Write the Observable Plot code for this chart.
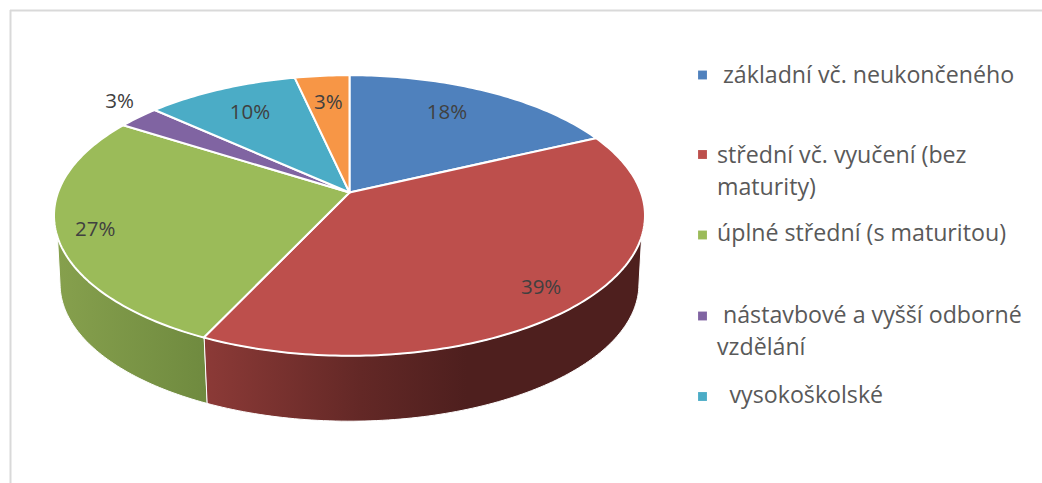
<!DOCTYPE html>
<html>
<head>
<meta charset="utf-8">
<script src="https://cdn.jsdelivr.net/npm/d3@7"></script>
<script src="https://cdn.jsdelivr.net/npm/@observablehq/plot@0.6"></script>
<style>
html,body{margin:0;padding:0;background:#fff;overflow:hidden}
svg{display:block}
</style>
</head>
<body>
<div id="chart"></div>
<script>
// data
const categories = ["základní vč. neukončeného","střední vč. vyučení (bez maturity)","úplné střední (s maturitou)","nástavbové a vyšší odborné vzdělání","vysokoškolské","(bez popisku)"];
const shares = [18, 39, 27, 2.7, 9.8, 3.5];
const shareLabels = ["18%","39%","27%","3%","10%","3%"];
const sliceColors = ["#4f81bd","#bd4f4c","#9bbb59","#8064a2","#4bacc6","#f79646"];
const legendLines = [
  ["základní vč. neukončeného"],
  ["střední vč. vyučení (bez","maturity)"],
  ["úplné střední (s maturitou)"],
  ["nástavbové a vyšší odborné","vzdělání"],
  ["vysokoškolské"]
];

// layout
const W = 1042, H = 483;
const apex = {x: 349, top: 192, bottom: 261};
const persp = 0.164;
const topR = {x: 291.5, y: 136.5}, botR = {x: 285.5, y: 133.5};
const silhouetteTop = [108, 252], silhouetteBottom = [100, 260];
const labelRadius = [0.75, 0.86, 0.875, 1.158, 0.75, 0.745];
const labelTurn = [-2.8, 1.7, -1.1, 2.9, 0, 0];
const legendSwatchY = [74.5, 154, 234.5, 315.5, 396];
const legendLineX = [[722.5],[716.5,716.5],[716.5],[722.5,716.5],[729]];
const legendLineY = [[75],[155,187],[233],[315,347],[395]];

const rad = d => d * Math.PI / 180;
function project(deg, r, ring) {
  const u = r * Math.sin(rad(deg)), v = r * Math.cos(rad(deg)), d = 1 + persp * v;
  const R = ring === "top" ? topR : botR, cy = ring === "top" ? apex.top : apex.bottom;
  return {x: apex.x + R.x * u / d, y: cy - R.y * v / d};
}
function arcPts(a0, a1, ring) {
  const n = Math.max(2, Math.ceil(Math.abs(a1 - a0))), out = [];
  for (let i = 0; i <= n; i++) out.push(project(a0 + (a1 - a0) * i / n, 1, ring));
  return out;
}
const total = d3.sum(shares);
let acc = 0;
const slices = shares.map((s, i) => {
  const a0 = acc / total * 360; acc += s;
  return {category: categories[i], a0, a1: acc / total * 360, label: shareLabels[i], i};
});
const topPolys = slices.flatMap(s => [
  {category: s.category, x: apex.x, y: apex.top},
  ...arcPts(s.a0, s.a1, "top").map(p => ({category: s.category, ...p}))
]);
const side = (t0, t1, b0, b1) => [...arcPts(t0, t1, "top"), ...arcPts(b1, b0, "bottom")];
const redSide = side(silhouetteTop[0], slices[1].a1, silhouetteBottom[0], slices[1].a1);
const greenSide = side(slices[2].a0, silhouetteTop[1], slices[2].a0, silhouetteBottom[1]);
const labels = slices.map((s, i) => ({
  label: s.label,
  ...project((s.a0 + s.a1) / 2 + labelTurn[i], labelRadius[i], "top")
}));
const legendRows = legendLines.flatMap((ls, i) => ls.map((t, j) => ({text: t, x: legendLineX[i][j], y: legendLineY[i][j]})));
const swatches = legendLines.map((_, i) => ({category: categories[i], x: 702, y: legendSwatchY[i]}));

const gradients = () => {
  const svgNS = "http://www.w3.org/2000/svg";
  const defs = document.createElementNS(svgNS, "defs");
  const mk = (id, stops) => {
    const g = document.createElementNS(svgNS, "linearGradient");
    g.setAttribute("id", id);
    stops.forEach(([o, c]) => {
      const s = document.createElementNS(svgNS, "stop");
      s.setAttribute("offset", o); s.setAttribute("stop-color", c); g.appendChild(s);
    });
    defs.appendChild(g);
  };
  mk("redSide", [[0,"#8c3a37"],[0.36,"#632826"],[0.6,"#4e1f1e"],[1,"#4e1f1e"]]);
  mk("greenSide", [[0,"#86a04d"],[1,"#6f8a3f"]]);
  return defs;
};

const plot = Plot.plot({
  width: W, height: H, margin: 0,
  style: {background: "#fff"},
  x: {domain: [0, W], range: [0, W], axis: null},
  y: {domain: [0, H], range: [0, H], axis: null},
  color: {domain: categories, range: sliceColors},
  marks: [
    Plot.ruleY([10], {x1: 10, x2: W, stroke: "#d9d9d9", strokeWidth: 2}),
    Plot.ruleX([10], {y1: 10, y2: H, stroke: "#d9d9d9", strokeWidth: 2}),
    gradients,
    Plot.line(redSide, {x: "x", y: "y", fill: "url(#redSide)", stroke: "#fff", strokeWidth: 1, curve: "linear-closed"}),
    Plot.line(greenSide, {x: "x", y: "y", fill: "url(#greenSide)", stroke: "#fff", strokeWidth: 1, curve: "linear-closed"}),
    Plot.line(topPolys, {x: "x", y: "y", z: "category", fill: "category", stroke: "#fff", strokeWidth: 2, strokeLinejoin: "round", curve: "linear-closed"}),
    Plot.text(labels, {x: "x", y: "y", text: "label", fill: "#404040", fontSize: 20.5, fontFamily: "Open Sans", lineAnchor: "middle"}),
    Plot.dot(swatches, {x: "x", y: "y", fill: "category", symbol: "square", r: 5}),
    Plot.text(legendRows, {x: "x", y: "y", text: "text", fill: "#595959", fontSize: 23.2, fontFamily: "Open Sans", textAnchor: "start", lineAnchor: "middle"})
  ]
});
document.getElementById("chart").appendChild(plot);
</script>
</body>
</html>
